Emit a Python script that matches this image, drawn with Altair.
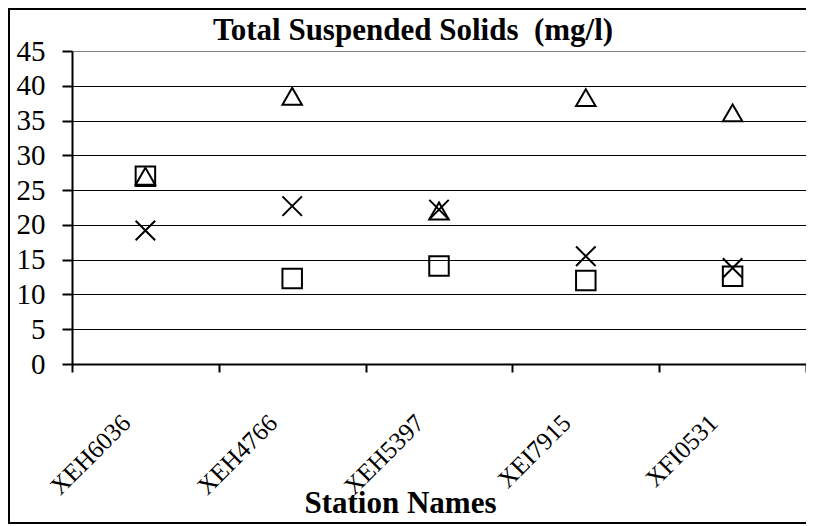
import altair as alt
import pandas as pd

stations = ["XEH6036", "XEH4766", "XEH5397", "XEI7915", "XFI0531"]
series_names = ["Series 1", "Series 2", "Series 3"]
triangle_vals = [27.0, 38.5, 22.0, 38.3, 36.1]
square_vals = [27.0, 12.3, 14.1, 12.0, 12.6]
cross_vals = [19.2, 22.7, 22.2, 15.5, 13.8]
y_ticks = [0, 5, 10, 15, 20, 25, 30, 35, 40, 45]
shape_range = ["triangle-up", "square", "M-1,-1L1,1M-1,1L1,-1"]
chart_title = "Total Suspended Solids\u00a0\u00a0(mg/l)"

rows = []
for name, vals in zip(series_names, [triangle_vals, square_vals, cross_vals]):
    for st, v in zip(stations, vals):
        rows.append({"Station": st, "Series": name, "Value": v})
df = pd.DataFrame(rows)

SERIF = "Liberation Serif"

points = alt.Chart(df).mark_point(
    filled=False, stroke="black", strokeWidth=2, size=380, opacity=1
).encode(
    x=alt.X(
        "Station:N",
        sort=stations,
        scale=alt.Scale(paddingInner=0, paddingOuter=0),
        axis=alt.Axis(
            title="Station Names",
            titleFont=SERIF, titleFontSize=31, titleFontWeight="bold", titleColor="black",
            titleX=328, titleY=148, titleBaseline="alphabetic", titleAlign="center",
            labelFont=SERIF, labelFontSize=25, labelColor="black",
            labelAngle=-45, labelAlign="right", labelBaseline="top",
            labelOffset=-28, labelPadding=38,
            tickBand="extent", tickSize=8, tickColor="black", tickWidth=2,
            domainColor="black", domainWidth=2, grid=False,
        ),
    ),
    y=alt.Y(
        "Value:Q",
        scale=alt.Scale(domain=[0, 45], nice=False),
        axis=alt.Axis(
            title=None, values=y_ticks,
            labelFont=SERIF, labelFontSize=29, labelColor="black",
            labelPadding=17, tickSize=10, tickColor="black", tickWidth=2,
            domainColor="black", domainWidth=2,
            grid=True,
            gridColor={"condition": {"test": "datum.value >= 45", "value": "#808080"}, "value": "black"},
            gridWidth=1,
        ),
    ),
    shape=alt.Shape(
        "Series:N",
        scale=alt.Scale(domain=series_names, range=shape_range),
        legend=None,
    ),
)

decor = pd.DataFrame({"label": [chart_title]})

frame = alt.Chart(decor).mark_rect(
    fill="transparent", stroke="black", strokeWidth=2
).encode(
    x=alt.value(-63), x2=alt.value(790), y=alt.value(-42), y2=alt.value(472)
)

title_text = alt.Chart(decor).mark_text(
    font=SERIF, fontSize=31, fontWeight="bold", color="black",
    align="center", baseline="alphabetic",
).encode(
    x=alt.value(341), y=alt.value(-11), text="label:N"
)

chart = alt.layer(points, frame, title_text).properties(
    width=734,
    height=313,
    autosize=alt.AutoSizeParams(type="none"),
    padding={"left": 64, "top": 43, "right": 0, "bottom": 160},
).configure_view(stroke="#808080", strokeWidth=1).configure(background="white")

chart.save("out.html", embed_options={"renderer": "svg", "actions": False})
